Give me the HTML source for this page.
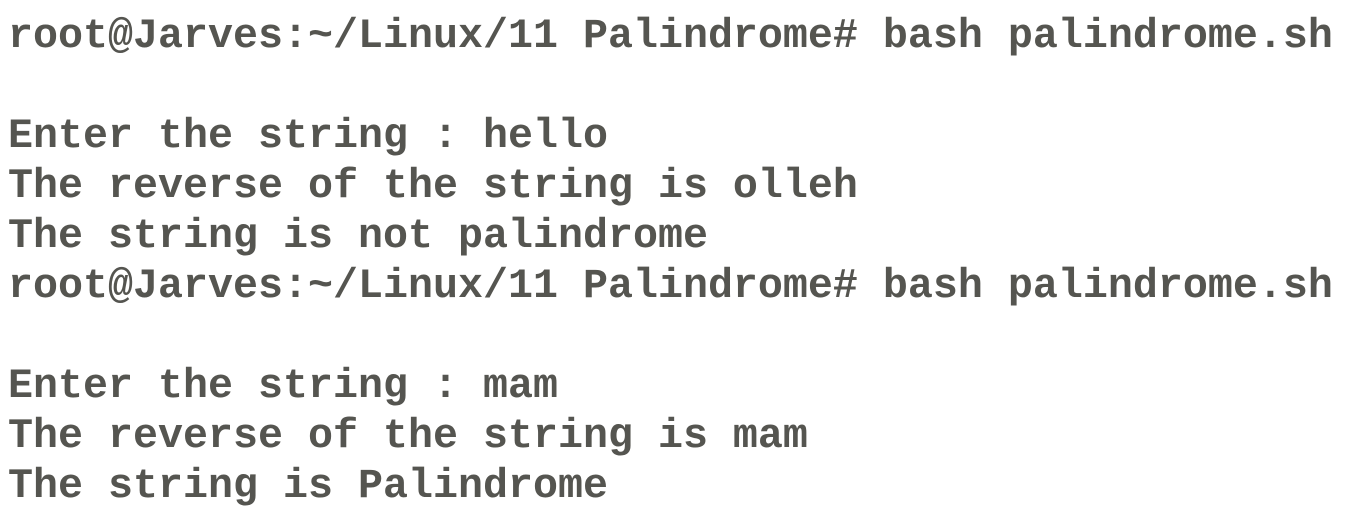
<!DOCTYPE html>
<html><head><meta charset="utf-8"><style>
html,body{margin:0;padding:0;background:#fff;width:1366px;height:513px;overflow:hidden}
pre{margin:0;padding:11px 0 0 8px;font-family:"Liberation Mono",monospace;font-weight:bold;font-size:41.67px;line-height:50px;color:#555550;white-space:pre}
</style></head><body><pre>root@Jarves:~/Linux/11 Palindrome# bash palindrome.sh

Enter the string : hello
The reverse of the string is olleh
The string is not palindrome
root@Jarves:~/Linux/11 Palindrome# bash palindrome.sh

Enter the string : mam
The reverse of the string is mam
The string is Palindrome</pre></body></html>
